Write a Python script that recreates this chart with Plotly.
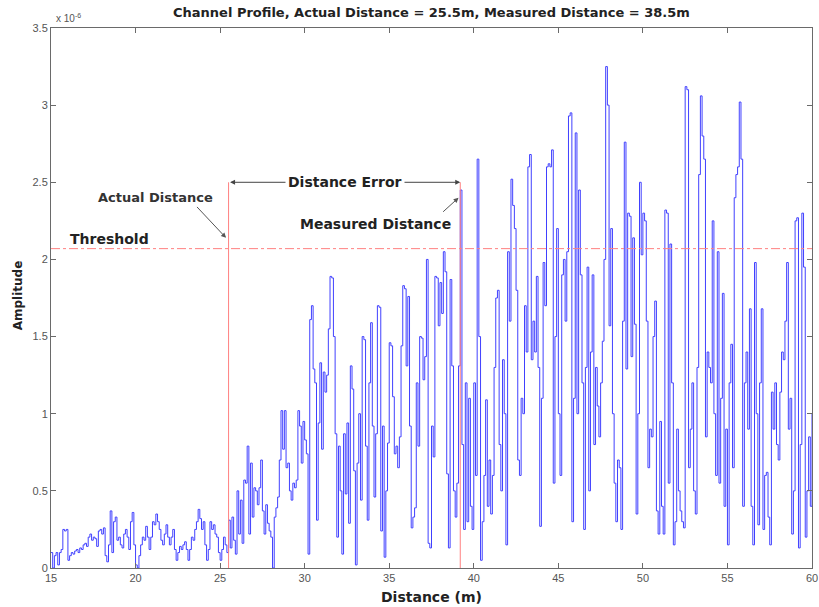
import numpy as np
import plotly.graph_objects as go

# ---- data (amplitude in units of 1e-6), sampled every 0.1 m from 15.0 m ----
amp_15_25 = [
    0.10, 0.00, 0.08, 0.10, 0.02, 0.10, 0.12, 0.25, 0.24, 0.25,
    0.05, 0.08, 0.10, 0.09, 0.11, 0.12, 0.10, 0.13, 0.12, 0.15,
    0.16, 0.14, 0.20, 0.22, 0.18, 0.20, 0.19, 0.14, 0.24, 0.25,
    0.22, 0.26, 0.08, 0.04, 0.15, 0.37, 0.10, 0.30, 0.33, 0.18,
    0.20, 0.15, 0.13, 0.22, 0.25, 0.20, 0.12, 0.30, 0.36, 0.15,
    0.02, 0.00, 0.08, 0.15, 0.20, 0.18, 0.27, 0.20, 0.12, 0.20,
    0.30, 0.28, 0.35, 0.30, 0.25, 0.18, 0.15, 0.22, 0.28, 0.20,
    0.15, 0.20, 0.25, 0.12, 0.05, 0.10, 0.14, 0.12, 0.15, 0.17,
    0.12, 0.05, 0.12, 0.20, 0.18, 0.25, 0.30, 0.38, 0.32, 0.25,
    0.30, 0.15, 0.05, 0.12, 0.30, 0.25, 0.28, 0.22, 0.20, 0.10,
    0.05, 0.12, 0.20, 0.15, 0.10,
]
amp_25_39 = [
    0.31, 0.13, 0.33, 0.18, 0.09, 0.50, 0.22, 0.44, 0.16, 0.57,
    0.55, 0.79, 0.22, 0.68, 0.33, 0.52, 0.50, 0.41, 0.52, 0.70,
    0.37, 0.22, 0.41, 0.29, 0.24, 0.20, 0.00, 0.33, 0.39, 0.46,
    0.70, 1.02, 0.77, 1.02, 0.65, 0.68, 0.50, 0.44, 0.55, 0.52,
    0.57, 1.02, 0.92, 0.68, 0.95, 0.83, 0.74, 0.09, 1.61, 1.70,
    1.29, 1.20, 0.31, 0.94, 1.33, 0.77, 1.27, 1.14, 1.25, 1.55,
    1.89, 1.88, 1.50, 0.87, 0.20, 0.79, 0.50, 0.09, 0.87, 0.48,
    0.94, 0.29, 1.31, 1.16, 0.63, 0.02, 0.68, 1.00, 0.44, 1.50,
    1.48, 0.79, 0.31, 1.20, 1.59, 0.92, 0.46, 0.87, 1.70, 1.69,
    0.24, 0.92, 0.07, 0.50, 0.81, 1.46, 1.44, 1.11, 0.74, 0.79,
    0.65, 0.85, 1.44, 1.83, 1.81, 1.31, 1.76, 0.92, 0.26, 0.33,
    0.39, 1.20, 0.79, 1.50, 1.49, 1.22, 1.37, 2.00, 0.16, 0.13,
    0.92, 0.72, 1.89, 1.88, 1.57, 1.85, 1.65, 2.05, 1.92, 0.61,
    0.13, 1.87, 1.31, 0.50, 0.33, 0.55, 1.31,
]
amp_39_49 = [
    2.45, 0.80, 0.25, 1.20, 0.30, 1.10, 0.40, 0.25, 1.20, 0.60,
    2.65, 1.50, 0.05, 0.30, 0.60, 1.09, 0.40, 0.70, 0.35, 0.60,
    1.30, 1.75, 1.80, 0.80, 0.50, 1.35, 1.00, 0.15, 2.05, 1.60,
    2.52, 2.35, 2.20, 1.80, 0.70, 0.60, 1.10, 1.00, 1.70, 1.40,
    2.60, 2.68, 1.35, 1.60, 1.40, 1.89, 1.30, 0.27, 1.10, 1.98,
    1.70, 2.60, 2.62, 2.60, 2.71, 0.55, 1.50, 2.20, 1.00, 0.60,
    1.90, 2.00, 1.60, 2.05, 2.93, 2.95, 0.30, 1.10, 2.82, 1.00,
    2.45, 1.90, 1.20, 0.25, 1.30, 1.95, 0.50, 1.40, 1.90, 0.80,
    1.30, 1.05, 0.85, 1.20, 1.47, 2.00, 3.25, 3.00, 1.57, 2.20,
    1.00, 0.55, 0.30, 0.70, 0.65, 0.25, 1.60, 2.76,
]
amp_49_60 = [
    1.29, 2.30, 2.28, 1.37, 2.14, 1.58, 0.35, 1.00, 2.50, 2.03,
    2.30, 2.25, 1.60, 0.65, 0.90, 0.85, 1.50, 1.73, 0.37, 0.22,
    0.95, 0.40, 0.22, 2.32, 2.30, 0.55, 2.10, 1.20, 0.15, 0.30,
    0.90, 0.50, 0.37, 0.30, 0.26, 3.12, 3.10, 0.65, 0.90, 1.20,
    0.50, 0.35, 1.30, 2.55, 3.06, 2.80, 2.65, 0.85, 1.40, 1.30,
    1.20, 2.25, 1.00, 0.60, 2.05, 0.55, 1.10, 1.78, 0.40, 0.90,
    0.15, 1.20, 1.45, 0.65, 2.40, 2.55, 2.60, 3.02, 2.65, 0.40,
    1.20, 1.40, 0.90, 1.68, 0.40, 0.15, 1.98, 1.00, 0.28, 1.20,
    1.68, 0.25, 0.60, 0.62, 0.33, 0.15, 1.14, 0.90, 1.20, 0.80,
    0.70, 1.14, 1.40, 1.35, 1.60, 1.98, 0.90, 1.10, 0.22, 0.50,
    2.25, 2.27, 0.13, 0.80, 2.30, 1.95, 0.20, 0.50, 0.85, 0.40,
    1.00,
]
amplitude = amp_15_25 + amp_25_39 + amp_39_49 + amp_49_60
start_distance = 15.0
sample_step = 0.1
distance = np.round(start_distance + sample_step * np.arange(len(amplitude)), 2)

actual_distance = 25.5
measured_line = 39.2
threshold = 2.07
error_level = 2.5

x_ticks = [15, 20, 25, 30, 35, 40, 45, 50, 55, 60]
y_ticks = [0, 0.5, 1, 1.5, 2, 2.5, 3, 3.5]
y_tick_labels = ["0", "0.5", "1", "1.5", "2", "2.5", "3", "3.5"]

title_text = "Channel Profile, Actual Distance = 25.5m, Measured Distance = 38.5m"

FONT = "DejaVu Sans, Liberation Sans, sans-serif"
TICKFONT = "Liberation Sans, Arial, sans-serif"
AXIS_COL = "#6a6a6a"
RED = "#ff8080"

fig = go.Figure()
fig.add_trace(go.Scatter(
    x=distance, y=amplitude, mode="lines", line_shape="hv",
    line=dict(color="#4040ff", width=1), showlegend=False, hoverinfo="skip",
))

# threshold and the two distance markers
fig.add_shape(type="line", x0=15, x1=60, y0=threshold, y1=threshold,
              xref="x", yref="y", line=dict(color=RED, width=1, dash="dashdot"))
fig.add_shape(type="line", x0=actual_distance, x1=actual_distance, y0=0, y1=error_level,
              xref="x", yref="y", line=dict(color=RED, width=1))
fig.add_shape(type="line", x0=measured_line, x1=measured_line, y0=0, y1=error_level,
              xref="x", yref="y", line=dict(color=RED, width=1))

# Distance error double arrow
fig.add_annotation(x=measured_line, y=error_level, ax=actual_distance, ay=error_level,
                   xref="x", yref="y", axref="x", ayref="y", text="",
                   showarrow=True, arrowhead=2, startarrowhead=2, arrowside="end+start",
                   arrowwidth=1, arrowsize=1, startarrowsize=1, arrowcolor="#444")
fig.add_annotation(x=32.4, y=error_level, xref="x", yref="y",
                   text="<b>Distance Error</b>", showarrow=False, bgcolor="white",
                   font=dict(family=FONT, size=14, color="#222"), borderpad=2)

# Actual distance label + arrow
fig.add_annotation(x=21.15, y=2.40, xref="x", yref="y", text="<b>Actual Distance</b>",
                   showarrow=False, font=dict(family=FONT, size=13, color="#333"))
fig.add_annotation(x=25.35, y=2.14, ax=23.55, ay=2.35, xref="x", yref="y",
                   axref="x", ayref="y", text="", showarrow=True, arrowhead=2,
                   arrowwidth=1, arrowsize=1, arrowcolor="#555")

# Measured distance label + arrow
fig.add_annotation(x=34.2, y=2.23, xref="x", yref="y", text="<b>Measured Distance</b>",
                   showarrow=False, font=dict(family=FONT, size=14, color="#222"))
fig.add_annotation(x=39.1, y=2.4, ax=38.1, ay=2.3, xref="x", yref="y",
                   axref="x", ayref="y", text="", showarrow=True, arrowhead=2,
                   arrowwidth=1, arrowsize=1, arrowcolor="#555")

# Threshold label
fig.add_annotation(x=16.0, y=2.13, xref="x", yref="y", xanchor="left",
                   text="<b>Threshold</b>", showarrow=False,
                   font=dict(family=FONT, size=14, color="#222"))

# Title, axis titles, exponent
fig.add_annotation(x=0.5, y=1, xref="paper", yref="paper", yanchor="bottom", yshift=6,
                   text="<b>" + title_text + "</b>", showarrow=False,
                   font=dict(family=FONT, size=13, color="#222"))
fig.add_annotation(x=0.5, y=0, xref="paper", yref="paper", yanchor="middle", yshift=-29,
                   text="<b>Distance (m)</b>", showarrow=False,
                   font=dict(family=FONT, size=14, color="#222"))
fig.add_annotation(x=0, y=0.505, xref="paper", yref="paper", xanchor="center", xshift=-33,
                   text="<b>Amplitude</b>", textangle=-90, showarrow=False,
                   font=dict(family=FONT, size=12, color="#222"))
fig.add_annotation(x=0, y=1, xref="paper", yref="paper", xanchor="left", yanchor="bottom",
                   xshift=3, yshift=2, text="x 10<sup>-6</sup>", showarrow=False,
                   font=dict(family=TICKFONT, size=10, color="#555"))

axis_common = dict(showgrid=False, zeroline=False, showline=True, mirror="ticks",
                   linecolor=AXIS_COL, linewidth=1, ticks="inside", ticklen=5,
                   tickcolor=AXIS_COL, ticklabeloverflow="allow",
                   tickfont=dict(family=TICKFONT, size=11, color="#555"))

fig.update_layout(
    width=819, height=607,
    margin=dict(l=51, r=1, t=28, b=39),
    paper_bgcolor="white", plot_bgcolor="white",
    xaxis=dict(range=[15, 60], tickvals=x_ticks, ticktext=[str(v) for v in x_ticks],
               **axis_common),
    yaxis=dict(range=[0, 3.5], tickvals=y_ticks, ticktext=y_tick_labels, **axis_common),
    showlegend=False,
)

fig.write_html("out.html")
